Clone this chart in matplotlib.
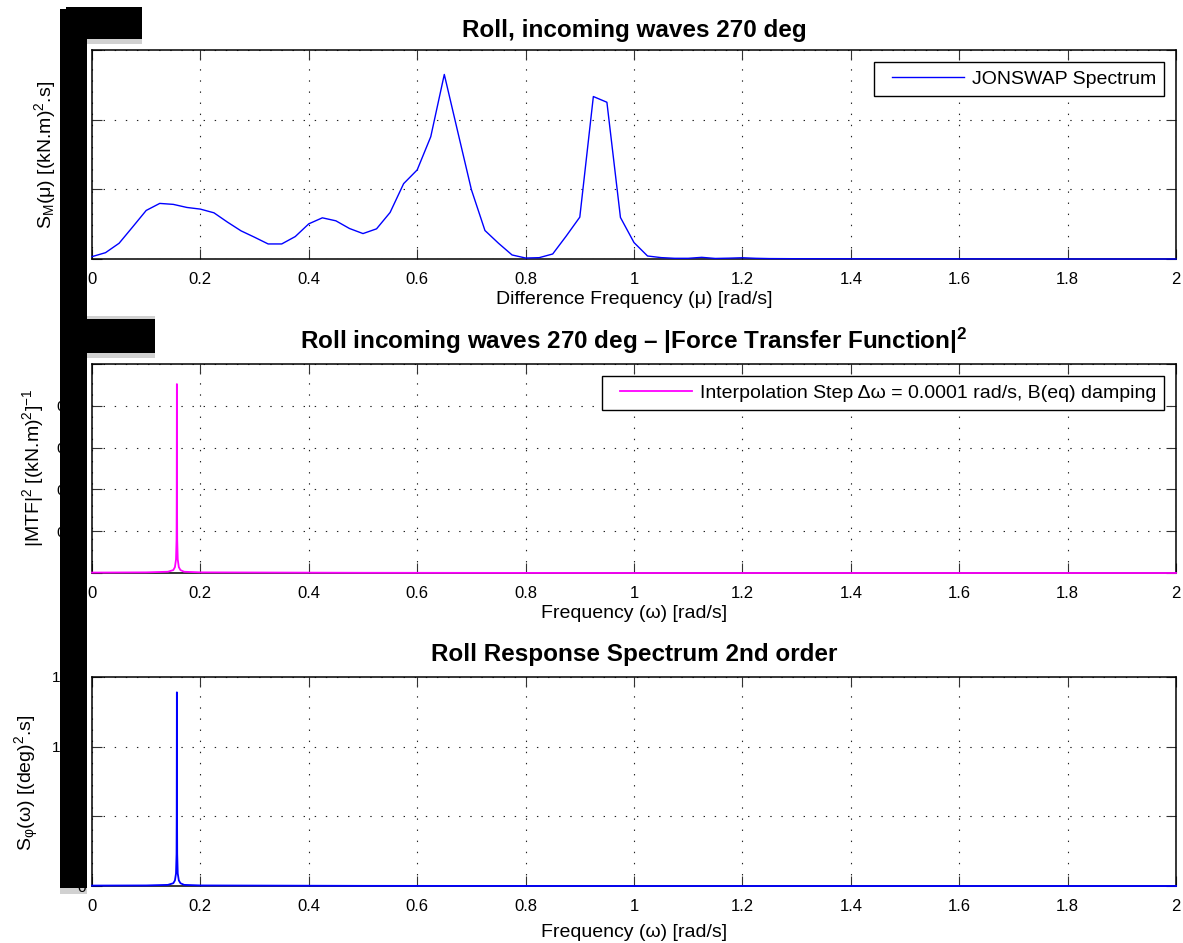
import numpy as np
import matplotlib
matplotlib.use('Agg')
import matplotlib.pyplot as plt
from matplotlib.patches import Rectangle
from matplotlib.lines import Line2D
from matplotlib.legend_handler import HandlerLine2D

# fonts (MATLAB-like Helvetica look)
plt.rcParams['font.family'] = ['Liberation Sans', 'DejaVu Sans']
plt.rcParams['mathtext.fontset'] = 'custom'
plt.rcParams['mathtext.rm'] = 'Liberation Sans'
plt.rcParams['mathtext.it'] = 'Liberation Sans'
plt.rcParams['mathtext.bf'] = 'Liberation Sans:bold'
plt.rcParams['lines.scale_dashes'] = False

# JONSWAP spectrum (difference frequency)
mu = [0.0, 0.025, 0.05, 0.075, 0.1, 0.125, 0.15, 0.175, 0.2, 0.225,
      0.25, 0.275, 0.3, 0.325, 0.35, 0.375, 0.4, 0.425, 0.45, 0.475,
      0.5, 0.525, 0.55, 0.575, 0.6, 0.625, 0.65, 0.675, 0.7, 0.725,
      0.75, 0.775, 0.8, 0.825, 0.85, 0.875, 0.9, 0.925, 0.95, 0.975,
      1.0, 1.025, 1.05, 1.075, 1.1, 1.125, 1.15, 1.175, 1.2, 1.225,
      1.25, 1.275, 1.3, 1.4, 1.5, 1.6, 1.7, 1.8, 1.9, 2.0]
s_mu = [0.34, 0.91, 2.26, 4.6, 6.97, 7.98, 7.84, 7.40, 7.16, 6.63,
        5.29, 4.04, 3.12, 2.16, 2.16, 3.22, 5.05, 5.91, 5.48, 4.38,
        3.65, 4.33, 6.68, 10.82, 12.79, 17.55, 26.49, 18.2, 9.95, 4.09,
        2.26, 0.58, 0.14, 0.19, 0.72, 3.3, 6.01, 23.32, 22.5, 5.96,
        2.36, 0.43, 0.2, 0.1, 0.1, 0.24, 0.08, 0.12, 0.18, 0.1,
        0.06, 0.05, 0.04, 0.03, 0.02, 0.02, 0.01, 0.005, 0.002, 0.0]

# |MTF|^2 and roll response around the resonance
w = [0.0, 0.1, 0.14, 0.15, 0.153, 0.155, 0.156, 0.1563, 0.1566, 0.1569,
     0.1572, 0.1582, 0.1602, 0.1632, 0.17, 0.2, 0.5, 1.0, 2.0]
mtf2 = [0.0002, 0.0003, 0.0006, 0.0014, 0.0028, 0.0065, 0.016, 0.034, 0.0904, 0.034,
        0.016, 0.0065, 0.0028, 0.0014, 0.0006, 0.0003, 0.0001, 0.0, 0.0]
s_phi = [3, 4, 8, 20, 40, 90, 230, 520, 1390, 520,
         230, 90, 40, 20, 8, 4, 1, 0, 0]

xticks = [0, 0.2, 0.4, 0.6, 0.8, 1, 1.2, 1.4, 1.6, 1.8, 2]
xticklabels = ['0', '0.2', '0.4', '0.6', '0.8', '1', '1.2', '1.4', '1.6', '1.8', '2']

W, H = 1183, 943
fig = plt.figure(figsize=(W / 100, H / 100), dpi=100)


def px_axes(left, top, right, bottom):
    return fig.add_axes([left / W, 1 - bottom / H, (right - left) / W, (bottom - top) / H])


def style(ax, yticks, yticklabels, ymax):
    ax.set_xlim(0, 2)
    ax.set_ylim(0, ymax)
    ax.set_xticks(xticks)
    ax.set_xticklabels(xticklabels)
    ax.set_yticks(yticks)
    ax.set_yticklabels(yticklabels)
    ax.tick_params(direction='in', top=True, right=True, length=7, width=0.8,
                   labelsize=12, color='#333333')
    ax.tick_params(axis='x', pad=9.5)
    ax.tick_params(axis='y', pad=4.5, labelsize=11)
    ax.grid(True, color='#222222', linestyle=(0, (1, 7)), linewidth=0.8)
    for sp in ax.spines.values():
        sp.set_linewidth(1.1)
        sp.set_color('black')


def legend(ax):
    leg = ax.legend(loc='upper right', fontsize=14, fancybox=False, edgecolor='black',
                    framealpha=1, handlelength=4.2, handletextpad=0.4,
                    borderpad=0.43, borderaxespad=0.6,
                    handler_map={Line2D: HandlerLine2D(xpad=0.5)})
    leg.get_frame().set_linewidth(1.0)


# 1) JONSWAP
ax1 = px_axes(92, 50, 1176, 259)
ax1.plot(mu, s_mu, color='#0000ff', linewidth=1.0, label='JONSWAP Spectrum',
         zorder=3, clip_on=False)
style(ax1, [0, 10, 20, 30], ['0', '10', '20', '30'], 30)
ax1.set_title('Roll, incoming waves 270 deg', fontsize=17.5, fontweight='bold', pad=9.5)
ax1.set_xlabel('Difference Frequency (μ) [rad/s]', fontsize=14, labelpad=3)
legend(ax1)

# 2) |MTF|^2
ax2 = px_axes(92, 364, 1176, 573)
ax2.plot(w, mtf2, color='#ff00ff', linewidth=1.3, zorder=3, clip_on=False,
         label='Interpolation Step Δω = 0.0001 rad/s, B(eq) damping')
style(ax2, [0, 0.02, 0.04, 0.06, 0.08, 0.1],
      ['0', '0.02', '0.04', '0.06', '0.08', '0.1'], 0.1)
ax2.set_title('Roll incoming waves 270 deg – |Force Transfer Function|$^\\mathbf{2}$',
              fontsize=17.5, fontweight='bold', pad=11)
ax2.set_xlabel('Frequency (ω) [rad/s]', fontsize=14, labelpad=3)
legend(ax2)

# 3) Response spectrum
ax3 = px_axes(92, 677, 1176, 886)
ax3.plot(w, s_phi, color='#0000ff', linewidth=1.3, zorder=3, clip_on=False)
style(ax3, [0, 500, 1000, 1500], ['0', '500', '1000', '1500'], 1500)
ax3.set_title('Roll Response Spectrum 2nd order', fontsize=17.5, fontweight='bold', pad=11.7)
ax3.set_xlabel('Frequency (ω) [rad/s]', fontsize=14, labelpad=7)

# y labels placed by hand
fig.text(45 / W, 1 - 155 / H, 'S$_{M}$(μ) [(kN.m)$^{2}$.s]', rotation=90,
         ha='center', va='center', fontsize=14)
fig.text(33 / W, 1 - 468 / H, '|MTF|$^{2}$ [(kN.m)$^{2}$]$^{-1}$', rotation=90,
         ha='center', va='center', fontsize=14)
fig.text(27 / W, 1 - 783 / H, 'S$_{φ}$(ω) [(deg)$^{2}$.s]', rotation=90,
         ha='center', va='center', fontsize=14)


# redaction blocks (drawn over the tick labels)
def block(x0, y0, x1, y1, color, alpha=1.0):
    fig.add_artist(Rectangle((x0 / W, 1 - y1 / H), (x1 - x0) / W, (y1 - y0) / H,
                             transform=fig.transFigure, facecolor=color, alpha=alpha,
                             edgecolor='none', zorder=20))


block(87, 39, 142, 44, 'black', 0.18)
block(87, 316, 155, 319, 'black', 0.18)
block(87, 353, 155, 358, 'black', 0.18)
block(60, 888, 87, 894, 'black', 0.18)
block(60, 9, 87, 888, 'black')
block(66, 7, 142, 39, 'black')
block(60, 319, 155, 353, 'black')

fig.savefig('out.png', dpi=100)
